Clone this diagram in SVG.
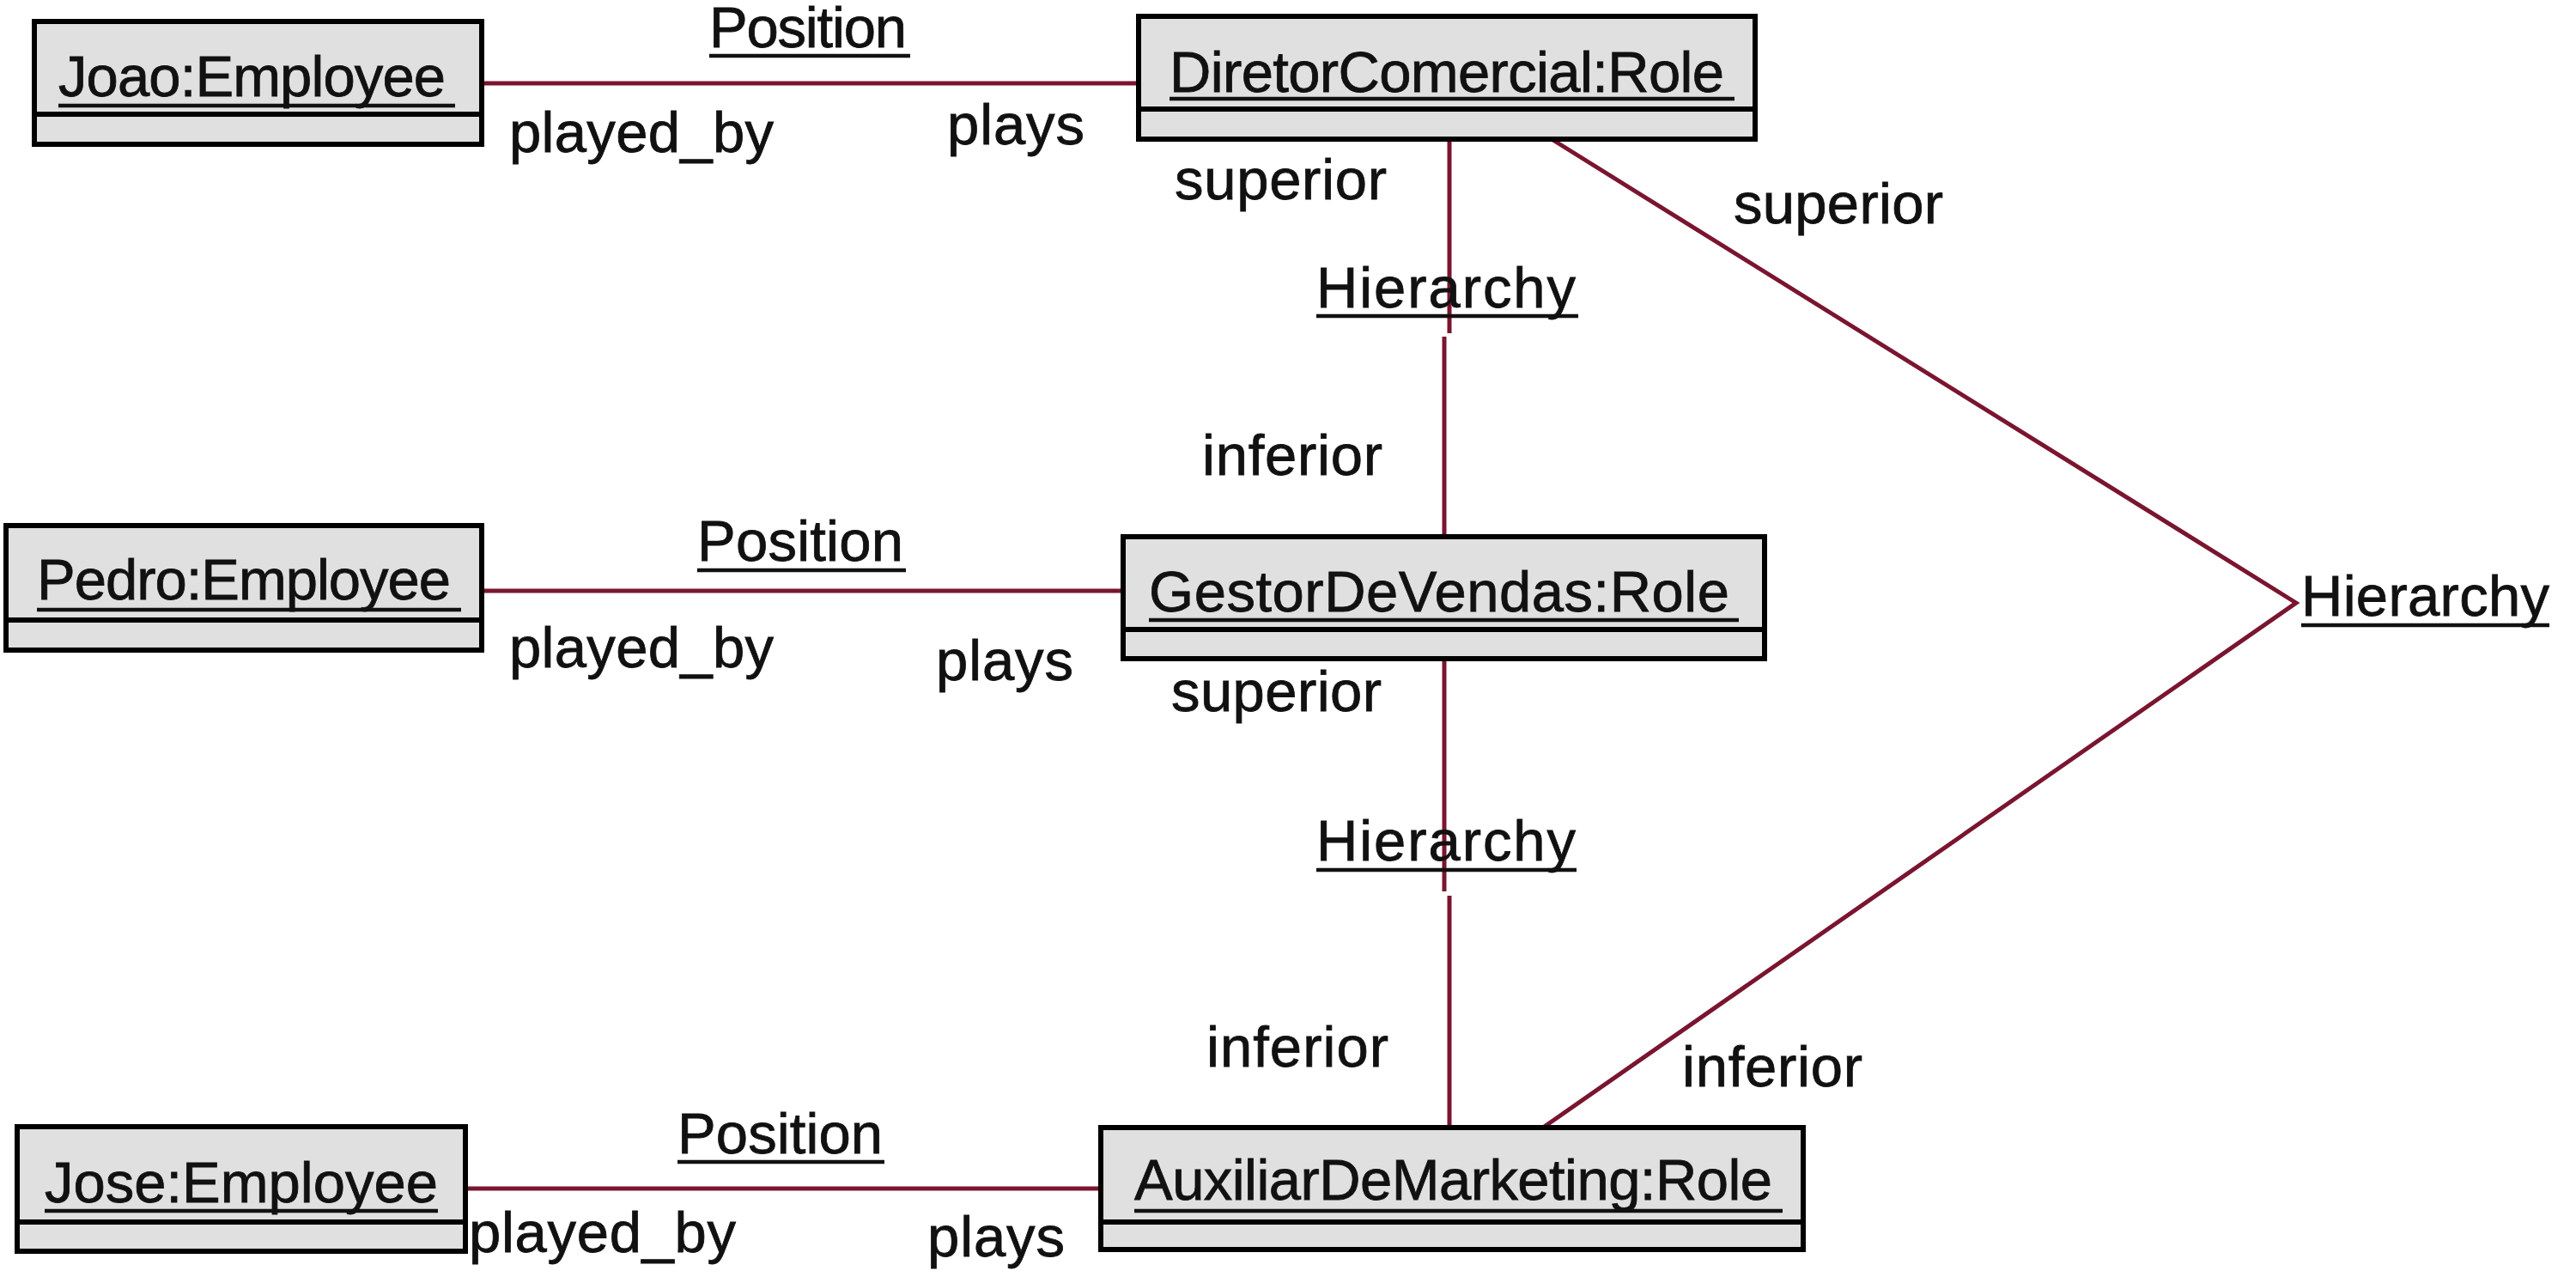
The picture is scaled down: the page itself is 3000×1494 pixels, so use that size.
<svg xmlns="http://www.w3.org/2000/svg" width="3000" height="1494" viewBox="0 0 3000 1494">
<style>
.box{fill:#e0e0e0;stroke:#000;stroke-width:6}
.div{stroke:#000;stroke-width:6}
.ul{stroke:#111;stroke-width:4.5}
.t{font-family:"Liberation Sans",Arial,sans-serif;font-size:67px;fill:#111;stroke:#111;stroke-width:0.8}
.c{stroke:#7a1530;stroke-width:5;fill:none}
</style>
<rect width="3000" height="1494" fill="#fff"/>
<g id="connectors">
<line class="c" x1="561" y1="97" x2="1326" y2="97"/>
<line class="c" x1="561" y1="688" x2="1308" y2="688"/>
<line class="c" x1="542" y1="1384" x2="1282" y2="1384"/>
<line class="c" x1="1688" y1="162" x2="1688" y2="388"/>
<line class="c" x1="1682" y1="392" x2="1682" y2="625"/>
<line class="c" x1="1682" y1="767" x2="1682" y2="1038"/>
<line class="c" x1="1688" y1="1043" x2="1688" y2="1313"/>
<polyline class="c" points="1807,162 2674,702 1797,1313"/>
<g id="assoc-labels">
<text class="t" x="826" y="55" textLength="230">Position</text>
<line class="ul" x1="826" y1="65" x2="1060" y2="65"/>
<text class="t" x="593" y="177" textLength="308">played_by</text>
<text class="t" x="1103" y="168" textLength="160">plays</text>
<text class="t" x="812" y="653" textLength="240">Position</text>
<line class="ul" x1="812" y1="664" x2="1055" y2="664"/>
<text class="t" x="593" y="777" textLength="308">played_by</text>
<text class="t" x="1090" y="792" textLength="160">plays</text>
<text class="t" x="789" y="1343" textLength="239">Position</text>
<line class="ul" x1="789" y1="1353" x2="1030" y2="1353"/>
<text class="t" x="546" y="1458" textLength="311">played_by</text>
<text class="t" x="1080" y="1463" textLength="160">plays</text>
<text class="t" x="1368" y="232" textLength="247">superior</text>
<text class="t" x="1533" y="358" textLength="302">Hierarchy</text>
<line class="ul" x1="1533" y1="368" x2="1838" y2="368"/>
<text class="t" x="1400" y="553" textLength="210">inferior</text>
<text class="t" x="1364" y="828" textLength="245">superior</text>
<text class="t" x="1533" y="1002" textLength="302">Hierarchy</text>
<line class="ul" x1="1533" y1="1013" x2="1836" y2="1013"/>
<text class="t" x="1405" y="1242" textLength="212">inferior</text>
<text class="t" x="2019" y="260" textLength="244">superior</text>
<text class="t" x="2680" y="717" textLength="289">Hierarchy</text>
<line class="ul" x1="2680" y1="728" x2="2969" y2="728"/>
<text class="t" x="1959" y="1265" textLength="210">inferior</text>
</g>
</g>
<g id="joao">
<rect class="box" x="40" y="25" width="521" height="143"/>
<line class="div" x1="40" y1="133" x2="561" y2="133"/>
<text class="t" x="68" y="112" textLength="451">Joao:Employee</text>
<line class="ul" x1="68" y1="123" x2="530" y2="123"/>
</g>
<g id="diretor">
<rect class="box" x="1326" y="19" width="718" height="143"/>
<line class="div" x1="1326" y1="127" x2="2044" y2="127"/>
<text class="t" x="1362" y="107" textLength="646">DiretorComercial:Role</text>
<line class="ul" x1="1362" y1="115" x2="2020" y2="115"/>
</g>
<g id="pedro">
<rect class="box" x="7" y="612" width="554" height="145"/>
<line class="div" x1="7" y1="722" x2="561" y2="722"/>
<text class="t" x="43" y="698" textLength="482">Pedro:Employee</text>
<line class="ul" x1="43" y1="710" x2="537" y2="710"/>
</g>
<g id="gestor">
<rect class="box" x="1308" y="625" width="747" height="142"/>
<line class="div" x1="1308" y1="733" x2="2055" y2="733"/>
<text class="t" x="1338" y="712" textLength="676">GestorDeVendas:Role</text>
<line class="ul" x1="1338" y1="722" x2="2025" y2="722"/>
</g>
<g id="jose">
<rect class="box" x="20" y="1312" width="522" height="145"/>
<line class="div" x1="20" y1="1423" x2="542" y2="1423"/>
<text class="t" x="52" y="1400" textLength="458">Jose:Employee</text>
<line class="ul" x1="52" y1="1410" x2="510" y2="1410"/>
</g>
<g id="auxiliar">
<rect class="box" x="1282" y="1313" width="818" height="142"/>
<line class="div" x1="1282" y1="1423" x2="2100" y2="1423"/>
<text class="t" x="1321" y="1397" textLength="743">AuxiliarDeMarketing:Role</text>
<line class="ul" x1="1321" y1="1410" x2="2076" y2="1410"/>
</g>
</svg>
